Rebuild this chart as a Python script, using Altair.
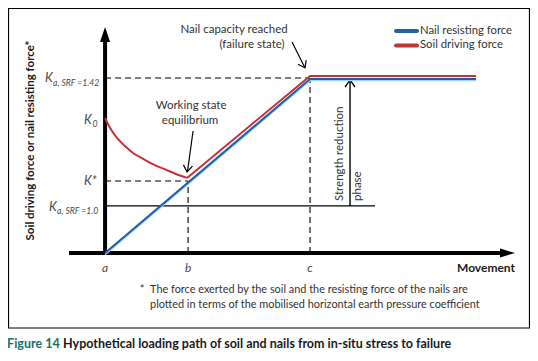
import altair as alt
import pandas as pd

# ---------------- data ----------------
# movement positions (c = 1), force levels normalised so K_a,SRF=1.42 = 1
move_labels = ["a", "b", "c"]
move_pos = [0.0, 0.405, 1.0]
move_end = 1.81
axis_x_min = -0.176
axis_x_max = 2.0
axis_y_max = 1.291

k_names = ["K_a142", "K_0", "K_star", "K_a10"]
k_vals = [1.0, 0.766, 0.411, 0.269]

nail_x = [0.0, 1.0, 1.81]
nail_y = [0.0, 0.994, 0.994]
# soil driving force: curved decay from K0 to K*, then linear rise and plateau
soil_curve_x = [0.0, 0.024, 0.057, 0.097, 0.138, 0.186, 0.235, 0.300, 0.348, 0.400]
soil_curve_y = [0.771, 0.715, 0.659, 0.611, 0.570, 0.538, 0.506, 0.474, 0.450, 0.429]
soil_line_x = [0.400, 1.0, 1.81]
soil_line_y = [0.429, 1.011, 1.011]

series_names = ["Nail resisting force", "Soil driving force"]
series_colors = ["#1f5fa9", "#c8313b"]

FONT = "Lato"
BOLD_FONT = "Lato"
TXT = "#333333"
LBL = "#4a4a4a"

# pixel helpers (page pixels of the reference -> data units)
def px(p):
    return (p - 105) / 205.0

def py(p):
    return (253 - p) / 175.0

X = alt.Scale(domain=[axis_x_min, axis_x_max], nice=False, zero=False)
Y = alt.Scale(domain=[0, axis_y_max], nice=False, zero=False)

def enc(ch, **extra):
    return ch.encode(x=alt.X("x:Q", scale=X, axis=None),
                     y=alt.Y("y:Q", scale=Y, axis=None), **extra)

def rules(df, **kw):
    return alt.Chart(df).mark_rule(**kw).encode(
        x=alt.X("x:Q", scale=X, axis=None), x2="x2:Q",
        y=alt.Y("y:Q", scale=Y, axis=None), y2="y2:Q")

def text(rows, **kw):
    df = pd.DataFrame(rows, columns=["x", "y", "t"])
    return enc(alt.Chart(df).mark_text(**kw), text="t:N")

def sym(rows, shape, size, **kw):
    df = pd.DataFrame(rows, columns=["x", "y", "a"])
    return enc(alt.Chart(df).mark_point(shape=shape, size=size, **kw),
               angle=alt.Angle("a:Q", scale=None))

layers = []

# outer frame
layers.append(alt.Chart(pd.DataFrame({"d": [0]})).mark_rect(
    fill=None, stroke="#000000", strokeWidth=1.2).encode(
    x=alt.value(-60.5), x2=alt.value(460.5), y=alt.value(-18.5), y2=alt.value(301)))

# axes
layers.append(rules(pd.DataFrame({"x": [axis_x_min], "x2": [px(503)], "y": [0.0], "y2": [0.0]}),
                    strokeWidth=4, color="black"))
layers.append(rules(pd.DataFrame({"x": [0.0], "x2": [0.0], "y": [-0.01], "y2": [py(38)]}),
                    strokeWidth=4, color="black"))
layers.append(sym([[px(507.5), 0.0, 0]], "M1,0 L-1,-0.6 L-1,0.6 Z", 225,
                  filled=True, color="black", opacity=1, strokeWidth=0))
layers.append(sym([[0.0, py(34.5), 0]], "M0,-1 L0.67,1 L-0.67,1 Z", 225,
                  filled=True, color="black", opacity=1, strokeWidth=0))

# dashed guides
dash = pd.DataFrame({
    "x": [0.0, 0.0, move_pos[1], move_pos[2]],
    "x2": [move_pos[2], move_pos[1], move_pos[1], move_pos[2]],
    "y": [k_vals[0], k_vals[2], 0.0, 0.0],
    "y2": [k_vals[0], k_vals[2], k_vals[2], k_vals[0]],
})
layers.append(rules(dash, strokeDash=[6, 4], strokeWidth=1.1, color="black"))

# K_a,SRF=1.0 solid line
layers.append(rules(pd.DataFrame({"x": [0.0], "x2": [px(375)], "y": [k_vals[3]], "y2": [k_vals[3]]}),
                    strokeWidth=1.1, color="black"))

# strength reduction arrow
layers.append(rules(pd.DataFrame({"x": [px(350)], "x2": [px(350)], "y": [k_vals[3]], "y2": [py(81)]}),
                    strokeWidth=1.4, color="black"))
chev = "M-0.7,1 L0,0 L0.7,1"
layers.append(sym([[px(350), py(80), 0]], chev, 200, filled=False, color="black",
                  opacity=1, strokeWidth=1.4))

# annotation arrows
layers.append(rules(pd.DataFrame({"x": [px(193), px(292)], "x2": [px(187.5), px(304.5)],
                                  "y": [py(131), py(42)], "y2": [py(171), py(67)]}),
                    strokeWidth=1.2, color="black"))
layers.append(sym([[px(187), py(172), 188], [px(305), py(68), 153]], chev, 170,
                  filled=False, color="black", opacity=1, strokeWidth=1.2))

# series
nail = pd.DataFrame({"x": nail_x, "y": nail_y, "o": range(len(nail_x))})
soil_c = pd.DataFrame({"x": soil_curve_x, "y": soil_curve_y, "o": range(len(soil_curve_x))})
soil_l = pd.DataFrame({"x": soil_line_x, "y": soil_line_y, "o": range(len(soil_line_x))})
layers.append(enc(alt.Chart(nail).mark_line(color="#9fd4f0", strokeWidth=1.4, yOffset=1.6),
                  order="o:Q"))
layers.append(enc(alt.Chart(nail).mark_line(color=series_colors[0], strokeWidth=2.0),
                  order="o:Q"))
layers.append(enc(alt.Chart(soil_c).mark_line(color=series_colors[1], strokeWidth=2.0,
                                              interpolate="monotone"), order="o:Q"))
layers.append(enc(alt.Chart(soil_l).mark_line(color=series_colors[1], strokeWidth=2.0),
                  order="o:Q"))

# legend
leg = pd.DataFrame({"x": [px(396)] * 2, "x2": [px(417)] * 2, "y": [py(31), py(45.5)],
                    "y2": [py(31), py(45.5)], "c": series_names})
layers.append(alt.Chart(leg).mark_rule(strokeWidth=4, strokeCap="round").encode(
    x=alt.X("x:Q", scale=X, axis=None), x2="x2:Q",
    y=alt.Y("y:Q", scale=Y, axis=None), y2="y2:Q",
    color=alt.Color("c:N", scale=alt.Scale(domain=series_names, range=series_colors), legend=None)))
layers.append(text([[px(420), py(31), series_names[0]], [px(420), py(45.5), series_names[1]]],
                   align="left", baseline="middle", font=FONT, fontSize=11.3, color=TXT))

# tick labels on movement axis
layers.append(text([[move_pos[i], py(268), move_labels[i]] for i in range(3)],
                   align="center", baseline="middle", font=FONT, fontStyle="italic",
                   fontSize=12, color=LBL))
layers.append(text([[px(515), py(268), "Movement"]], align="right", baseline="middle",
                   font=BOLD_FONT, fontWeight="bold", fontSize=12, color="#1a1a1a"))

# K labels on force axis: main letter + subscript
layers.append(text([[px(45), py(82), "K"], [px(84), py(124), "K"], [px(84), py(185.5), "K*"],
                    [px(49), py(211.5), "K"]],
                   align="left", baseline="alphabetic", font=FONT, fontStyle="italic",
                   fontSize=12.5, color=LBL))
layers.append(text([[px(53), py(86), "a, SRF =1.42"], [px(92.5), py(127), "0"],
                    [px(57), py(214.5), "a, SRF =1.0"]],
                   align="left", baseline="alphabetic", font=FONT, fontStyle="italic",
                   fontSize=8.6, color=LBL, dx=0))

# annotations
layers.append(text([[px(234), py(30.5), "Nail capacity reached"],
                    [px(252), py(45.5), "(failure state)"],
                    [px(191), py(106), "Working state"],
                    [px(190), py(121), "equilibrium"]],
                   align="center", baseline="middle", font=FONT, fontSize=11.5, color=TXT))
layers.append(text([[px(339.5), py(201), "Strength reduction"], [px(357.5), py(201), "phase"]],
                   align="left", baseline="middle", angle=270, font=FONT, fontSize=11.5, color=TXT))

# y-axis title
layers.append(text([[px(30.5), py(140.5), "Soil driving force or nail resisting force*"]],
                   align="center", baseline="middle", angle=270, font=BOLD_FONT,
                   fontWeight="bold", fontSize=11.5, color="#1a1a1a"))

# footnote
layers.append(text([[px(142), py(290), "*"]], align="center", baseline="middle",
                   font=FONT, fontSize=11, color=TXT))
layers.append(text([[px(150), py(290), "The force exerted by the soil and the resisting force of the nails are"],
                    [px(150), py(305), "plotted in terms of the mobilised horizontal earth pressure coefficient"]],
                   align="left", baseline="middle", font=FONT, fontSize=10.9, color=TXT))

# caption
layers.append(text([[px(7), py(343.5), "Figure 14"]], align="left", baseline="middle",
                   font=BOLD_FONT, fontWeight="bold", fontSize=12.5, color="#1b6f6b"))
layers.append(text([[px(63), py(343.5), "Hypothetical loading path of soil and nails from in-situ stress to failure"]],
                   align="left", baseline="middle", font=BOLD_FONT, fontWeight="bold",
                   fontSize=12.5, color="#1a1a1a"))

chart = alt.layer(*layers).properties(
    width=446, height=226,
    padding={"left": 61, "top": 19, "right": 15, "bottom": 100},
    autosize=alt.AutoSizeParams(type="none"),
    background="white",
).configure_view(stroke=None)

chart.save("out.html", embed_options={"renderer": "svg", "actions": False})
